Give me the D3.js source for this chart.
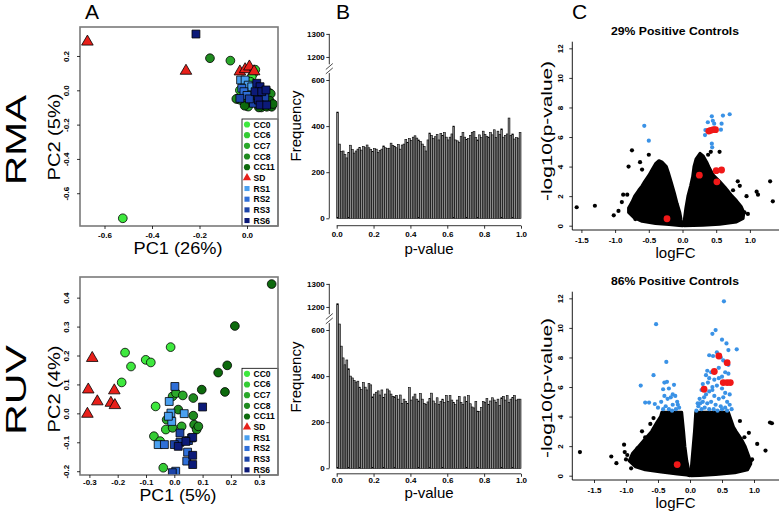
<!DOCTYPE html>
<html><head><meta charset="utf-8">
<script src="https://cdn.jsdelivr.net/npm/d3@7"></script>
<style>body{margin:0;background:#fff} svg{display:block;font-family:"Liberation Sans",Arial,Helvetica,sans-serif}</style>
</head><body><svg id="c" width="779" height="514"></svg>
<script>
// ---------------- DATA ----------------
const groups = ["CC0","CC6","CC7","CC8","CC11","SD","RS1","RS2","RS3","RS6"];
const groupColors = ["#3ee83e","#34cc34","#2aa82a","#1f8a1f","#0d6a0d","#e8201a","#4aa0f0","#2f6fd8","#1c44a8","#0c1a78"];
const groupShapes = ["circle","circle","circle","circle","circle","triangle","square","square","square","square"];

// RMA PCA (PC1, PC2)
const rmaCC0 = [[-0.523,-0.746],[0.027,0.099],[0.02,0.08],[-0.01,0.03],[0.0,-0.02],[-0.04,-0.05]];
const rmaCC6 = [[-0.03,0.0],[0.01,-0.04],[-0.02,-0.06],[0.035,0.12],[0.0,-0.09],[0.015,0.05]];
const rmaCC7 = [[-0.07,0.173],[-0.03,-0.055],[0.005,-0.095],[0.09,-0.01],[0.02,-0.07]];
const rmaCC8 = [[-0.156,0.187],[0.1,-0.02],[0.06,-0.1],[-0.045,-0.05],[0.085,-0.06]];
const rmaCC11 = [[0.083,-0.096],[0.104,-0.096],[0.095,-0.06],[0.11,-0.08],[0.05,-0.1],[-0.01,-0.09]];
const rmaSD = [[-0.672,0.283],[-0.257,0.113],[-0.03,0.109],[-0.008,0.122],[0.01,0.138],[0.03,0.11]];
const rmaRS1 = [[-0.027,0.06],[-0.008,0.06],[0.005,0.03],[0.02,0.02]];
const rmaRS2 = [[-0.022,0.012],[-0.013,-0.008],[0.0,-0.03],[0.045,-0.03]];
const rmaRS3 = [[-0.03,-0.047],[0.027,-0.076],[0.01,-0.05],[0.06,-0.07],[0.075,-0.04]];
const rmaRS6 = [[-0.215,0.328],[0.041,0.041],[0.055,0.021],[0.034,-0.008],[0.062,-0.008],[0.048,-0.057],[0.055,-0.086],[0.08,0.002],[0.083,-0.086]];

// RUV PCA
const ruvCC0 = [[-0.174,0.21],[-0.153,0.162],[-0.186,0.107],[-0.101,0.185],[-0.083,0.176],[-0.013,0.229],[-0.066,0.024]];
const ruvCC6 = [[-0.072,-0.079],[-0.05,-0.096],[-0.03,-0.056],[-0.039,-0.188]];
const ruvCC7 = [[-0.006,0.059],[0.006,0.07],[0.03,0.062],[-0.006,-0.05],[0.026,-0.045],[-0.027,-0.022]];
const ruvCC8 = [[0.067,0.053],[0.067,-0.008],[0.07,-0.039],[0.079,-0.056],[0.085,-0.045],[0.014,0.013]];
const ruvCC11 = [[0.214,0.302],[0.187,0.166],[0.155,0.141],[0.179,0.074],[0.097,0.082],[0.344,0.447]];
const ruvSD = [[-0.29,0.191],[-0.304,0.082],[-0.272,0.041],[-0.307,-0.002],[-0.224,0.036],[-0.212,0.079],[-0.21,0.028]];
const ruvRS1 = [[-0.018,0.041],[-0.012,0.001],[-0.009,-0.028],[-0.021,-0.01],[-0.057,-0.108],[0.035,-0.001]];
const ruvRS2 = [[0.002,0.093],[-0.035,-0.108],[0.005,-0.2],[0.044,-0.165],[0.047,-0.134]];
const ruvRS3 = [[0.02,-0.068],[0.02,-0.1],[0.05,-0.094],[0.0,-0.108],[-0.007,-0.205],[0.061,-0.085]];
const ruvRS6 = [[0.1,0.022],[0.065,-0.083],[0.065,-0.145],[0.065,-0.177],[0.014,-0.114],[0.041,-0.097]];

const pcaXTicksRMA = [-0.6,-0.4,-0.2,0.0];
const pcaYTicksRMA = [-0.6,-0.4,-0.2,0.0,0.2];
const pcaXTicksRUV = [-0.3,-0.2,-0.1,0.0,0.1,0.2,0.3];
const pcaYTicksRUV = [-0.2,-0.1,0.0,0.1,0.2,0.3,0.4];

// p-value histograms, 100 bins of width 0.01
const histRMA = [461,322,290,292,276,262,286,317,298,283,
 292,300,308,296,312,306,318,306,298,290,
 302,300,286,294,300,314,306,302,304,326,
 316,312,306,320,300,318,322,342,330,346,
 338,352,358,348,340,334,322,312,292,340,
 370,360,346,354,364,340,368,360,372,352,
 340,352,366,400,340,336,330,356,372,352,
 342,346,360,372,376,350,340,362,350,378,
 364,356,352,372,362,384,350,378,364,388,
 352,360,366,435,360,366,344,350,348,372];
const histRUV = [1214,626,530,479,449,470,432,400,392,381,
 374,378,352,342,372,352,340,368,362,310,
 322,330,336,318,340,308,322,344,336,322,
 312,310,316,300,318,282,300,290,282,350,
 296,310,322,300,292,324,300,282,276,288,
 302,326,292,280,306,276,290,300,286,316,
 290,315,296,286,276,296,312,286,276,310,
 290,315,280,266,262,290,248,246,264,290,
 286,302,276,292,306,296,286,300,272,306,
 312,296,315,286,300,308,316,296,300,300];
const histXTicks = [0,0.2,0.4,0.6,0.8,1.0];
const histYTicks = [0,200,400,600,1200,1300];

// Volcano plots: dense cloud outlines (logFC, -log10 p) + individual points
const volRMALeftCloud = [[0.0,0.0],[-0.05,0.02],[-0.2,0.08],[-0.4,0.15],[-0.6,0.3],[-0.72,0.55],[-0.8,0.9],[-0.8,1.2],[-0.75,1.6],[-0.71,2.0],[-0.65,2.4],[-0.6,2.7],[-0.56,3.0],[-0.5,3.4],[-0.45,3.8],[-0.4,4.2],[-0.35,4.4],[-0.3,4.3],[-0.24,4.0],[-0.21,3.6],[-0.17,3.0],[-0.12,2.2],[-0.08,1.5],[-0.04,0.9],[-0.02,0.4]];
const volRMARightCloud = [[0.02,0.0],[0.03,0.5],[0.05,1.2],[0.08,2.0],[0.12,2.7],[0.15,3.3],[0.17,4.0],[0.2,4.5],[0.26,4.9],[0.31,4.7],[0.36,4.3],[0.4,3.9],[0.46,3.4],[0.55,3.0],[0.63,2.6],[0.72,2.1],[0.8,1.7],[0.87,1.3],[0.91,0.9],[0.9,0.5],[0.8,0.25],[0.55,0.1],[0.3,0.03]];
const volRMABlack = [[-1.57,1.25],[-1.3,1.35],[-1.02,0.7],[-0.75,5.1],[-0.8,4.0],[-0.63,4.3],[-0.5,4.8],[-0.9,1.6],[-0.88,2.1],[-0.82,2.1],[-0.7,0.45],[-0.95,1.0],[0.55,5.0],[0.42,5.0],[0.38,4.8],[0.85,2.7],[0.82,3.0],[0.95,2.0],[0.92,0.9],[1.1,2.3],[1.12,2.1],[1.3,3.0],[1.34,1.65],[0.97,0.8],[0.75,2.4],[-0.6,3.8]];
const volRMABlue = [[-0.567,6.76],[-0.5,5.75],[0.334,6.13],[0.34,6.47],[0.376,7.0],[0.435,7.4],[0.45,7.1],[0.435,5.55],[0.44,5.3],[0.6,7.45],[0.58,6.9],[0.57,6.5],[0.7,7.54],[0.47,6.9]];
const volRMARed = [[-0.23,0.47],[0.25,3.42],[0.51,2.97],[0.5,3.72],[0.58,3.77],[0.39,6.4],[0.42,6.45],[0.46,6.5],[0.49,6.5]];

const volRUVLeftCloud = [[0.0,0.0],[-0.05,0.05],[-0.2,0.12],[-0.45,0.25],[-0.7,0.4],[-0.85,0.6],[-0.95,1.0],[-0.9,1.5],[-0.8,2.0],[-0.7,2.5],[-0.6,3.0],[-0.52,3.6],[-0.46,4.0],[-0.44,4.3],[-0.13,4.3],[-0.1,3.0],[-0.08,2.0],[-0.05,1.0],[-0.02,0.4]];
const volRUVRightCloud = [[0.02,0.0],[0.02,0.5],[0.03,1.0],[0.05,2.0],[0.07,3.0],[0.09,4.3],[0.6,4.3],[0.68,3.3],[0.72,3.0],[0.8,2.5],[0.86,2.0],[0.92,1.3],[0.95,0.8],[0.9,0.4],[0.7,0.2],[0.4,0.08],[0.15,0.02]];
const volRUVBlack = [[-1.72,1.6],[-1.23,1.3],[-1.15,0.85],[-1.03,2.1],[-1.02,1.6],[-0.98,1.4],[-0.85,0.9],[-0.82,1.85],[-0.75,3.0],[-0.7,2.6],[-0.62,3.5],[-0.57,3.9],[0.78,3.7],[0.85,2.6],[0.92,2.9],[0.95,1.0],[1.05,2.15],[1.18,1.7],[1.25,3.6],[1.28,3.55],[0.97,1.1],[0.8,1.7],[0.92,0.9],[-0.92,0.5],[-1.0,1.1]];
const volRUVBlue = [[-0.53,10.25],[-0.37,7.7],[-0.57,6.8],[-0.77,6.1],[-0.4,6.3],[-0.36,6.35],[-0.33,5.9],[-0.42,5.85],[-0.25,6.15],[-0.27,5.5],[-0.23,5.4],[-0.3,5.3],[-0.2,5.0],[-0.7,4.95],[-0.64,4.95],[-0.55,4.85],[-0.5,4.6],[-0.45,5.0],[-0.38,4.7],[-0.33,4.5],[-0.27,4.8],[-0.22,4.5],[-0.17,4.6],[-0.42,4.5],[-0.35,5.2],[-0.28,4.4],[-0.4,5.4],[-0.19,4.8],
 [0.53,11.8],[0.4,9.85],[0.35,9.6],[0.5,9.2],[0.57,8.95],[0.6,8.5],[0.73,8.55],[0.42,8.35],[0.36,8.1],[0.3,8.15],[0.48,8.0],[0.52,7.8],[0.6,7.5],[0.27,7.1],[0.33,7.0],[0.45,7.3],[0.55,7.0],[0.6,6.9],[0.25,6.8],[0.3,6.6],[0.38,6.5],[0.45,6.6],[0.5,6.7],[0.2,6.2],[0.28,6.3],[0.35,6.0],[0.42,6.1],[0.5,5.9],[0.55,5.6],[0.62,5.5],[0.18,5.8],[0.25,5.5],[0.3,5.7],[0.38,5.4],[0.45,5.2],[0.52,5.3],[0.58,5.0],[0.15,5.2],[0.2,5.0],[0.27,4.9],[0.33,5.0],[0.4,4.8],[0.48,4.7],[0.55,4.6],[0.62,4.8],[0.13,4.7],[0.18,4.5],[0.23,4.6],[0.3,4.5],[0.37,4.5],[0.43,4.4],[0.5,4.5],[0.58,4.4],[0.65,4.5],[0.1,4.4],[0.16,4.9],[0.35,5.8],[0.22,5.3],[0.12,4.9]];
const volRUVRed = [[-0.2,0.75],[0.22,5.85],[0.38,7.05],[0.45,8.1],[0.58,7.65],[0.52,6.3],[0.58,6.3],[0.63,6.3]];
const volXTicks = [-1.5,-1.0,-0.5,0.0,0.5,1.0];
const volYTicks = [0,2,4,6,8,10,12];

// ---------------- DRAW ----------------
const svg = d3.select("#c");
const f1 = d => d.toFixed(1);
const TICKFONT = "8px";

function text(x, y, s, size, opts = {}) {
  const t = svg.append("text").attr("x", x).attr("y", y).text(s)
    .attr("font-size", size).attr("text-anchor", opts.anchor || "middle")
    .attr("font-weight", opts.weight || "normal").attr("fill", "#000");
  if (opts.rot) t.attr("transform", `rotate(-90,${x},${y})`);
  if (opts.len) t.attr("textLength", opts.len).attr("lengthAdjust", "spacingAndGlyphs");
  return t;
}

function styleAxis(g) {
  g.select(".domain").remove();
  g.selectAll(".tick line").attr("stroke", "#000").attr("stroke-width", 0.8);
  g.selectAll(".tick text").attr("font-size", TICKFONT).attr("font-weight", "bold")
    .attr("fill", "#000").attr("font-family", "Liberation Sans, Arial, sans-serif");
}

function xAxis(x, yPos, ticks, fmt, labelOff) {
  const g = svg.append("g").attr("transform", `translate(0,${yPos})`)
    .call(d3.axisBottom(x).tickValues(ticks).tickSize(3).tickFormat(fmt));
  styleAxis(g);
  g.selectAll(".tick text").attr("y", labelOff).attr("dy", null);
  return g;
}
function yAxisRot(y, xPos, ticks, fmt, off) {
  const g = svg.append("g").attr("transform", `translate(${xPos},0)`)
    .call(d3.axisLeft(y).tickValues(ticks).tickSize(3).tickFormat(fmt));
  styleAxis(g);
  g.selectAll(".tick text").attr("x", 0).attr("y", 0).attr("dy", null)
    .attr("text-anchor", "middle").attr("transform", `translate(${-off},0) rotate(-90)`);
  return g;
}

const symGen = (shape, size) => d3.symbol().type(
  shape === "circle" ? d3.symbolCircle : shape === "triangle" ? d3.symbolTriangle : d3.symbolSquare).size(size)();
const bigSize = {circle: 60, triangle: 58, square: 62};
const legSize = {circle: 30, triangle: 30, square: 26};

function pcaPanel(cfg) {
  const x = d3.scaleLinear().domain(cfg.xd).range([80, 278]);
  const y = d3.scaleLinear().domain(cfg.yd).range([cfg.bottom, cfg.top]);
  const clipId = "clip" + Math.round(cfg.top);
  svg.append("clipPath").attr("id", clipId).append("rect")
    .attr("x", 80).attr("y", cfg.top).attr("width", 198).attr("height", cfg.bottom - cfg.top);
  const pg = svg.append("g").attr("clip-path", `url(#${clipId})`);
  cfg.data.forEach((arr, gi) => {
    pg.selectAll(null).data(arr).enter().append("path")
      .attr("d", symGen(groupShapes[gi], bigSize[groupShapes[gi]]))
      .attr("transform", d => `translate(${x(d[0])},${y(d[1])})`)
      .attr("fill", groupColors[gi]).attr("stroke", "#000").attr("stroke-width", 0.8);
  });
  const lg = svg.append("g");
  lg.append("rect").attr("x", 242).attr("y", cfg.legTop).attr("width", 36).attr("height", cfg.bottom - cfg.legTop)
    .attr("fill", "#fff").attr("stroke", "#000").attr("stroke-width", 0.8);
  groups.forEach((gname, gi) => {
    const yy = cfg.legTop + 5.5 + gi * 10.67;
    lg.append("path").attr("d", symGen(groupShapes[gi], legSize[groupShapes[gi]]))
      .attr("transform", `translate(247,${yy})`).attr("fill", groupColors[gi]);
    lg.append("text").attr("x", 253.5).attr("y", yy + 3).text(gname)
      .attr("font-size", "8.5px").attr("font-weight", "bold");
  });
  svg.append("rect").attr("x", 80).attr("y", cfg.top).attr("width", 198).attr("height", cfg.bottom - cfg.top)
    .attr("fill", "none").attr("stroke", "#7a7a7a").attr("stroke-width", 1.6);
  xAxis(x, cfg.bottom, cfg.xt, f1, cfg.xlab);
  yAxisRot(y, 80, cfg.yt, f1, 11);
}

pcaPanel({xd: [-0.7032, 0.1305], yd: [-0.791, 0.369], top: 27, bottom: 226, legTop: 119, xlab: 11.5,
  xt: pcaXTicksRMA, yt: pcaYTicksRMA,
  data: [rmaCC0, rmaCC6, rmaCC7, rmaCC8, rmaCC11, rmaSD, rmaRS1, rmaRS2, rmaRS3, rmaRS6]});
pcaPanel({xd: [-0.3332, 0.3664], yd: [-0.2131, 0.4714], top: 277, bottom: 475, legTop: 368.3, xlab: 9.5,
  xt: pcaXTicksRUV, yt: pcaYTicksRUV,
  data: [ruvCC0, ruvCC6, ruvCC7, ruvCC8, ruvCC11, ruvSD, ruvRS1, ruvRS2, ruvRS3, ruvRS6]});

function histPanel(vals, zeroY, axOff, xlab) {
  const x = d3.scaleLinear().domain([0, 1]).range([336.7, 521]);
  const comp = v => v > 650 ? v - 500 : v;
  const y = d3.scaleLinear().domain([0, 800]).range([zeroY, zeroY - 800 * 0.2305]);
  svg.append("g").selectAll("rect").data(vals).enter().append("rect")
    .attr("x", (d, i) => x(i / 100)).attr("width", x(0.01) - x(0))
    .attr("y", d => y(comp(d))).attr("height", d => y(0) - y(comp(d)))
    .attr("fill", "#8a8a8a").attr("stroke", "#000").attr("stroke-width", 0.6);
  xAxis(x, zeroY + axOff, histXTicks, f1, xlab);
  svg.append("line").attr("x1", x(0)).attr("x2", x(1)).attr("y1", zeroY + axOff).attr("y2", zeroY + axOff)
    .attr("stroke", "#000").attr("stroke-width", 0.8);
  const ax = 329.3;
  const g = svg.append("g").attr("transform", `translate(${ax},0)`)
    .call(d3.axisLeft(y).tickValues(histYTicks.map(comp)).tickSize(3)
      .tickFormat((d, i) => String(histYTicks[i])));
  styleAxis(g);
  g.selectAll(".tick text").attr("x", -4.5);
  svg.append("line").attr("x1", ax).attr("x2", ax).attr("y1", y(0)).attr("y2", y(630)).attr("stroke", "#000").attr("stroke-width", 0.8);
  svg.append("line").attr("x1", ax).attr("x2", ax).attr("y1", y(668)).attr("y2", y(800)).attr("stroke", "#000").attr("stroke-width", 0.8);
  const by = y(649);
  [-2.2, 2.2].forEach(o => svg.append("line").attr("x1", ax - 3.5).attr("x2", ax + 3.5)
    .attr("y1", by + o + 3).attr("y2", by + o - 3).attr("stroke", "#000").attr("stroke-width", 0.7));
}
histPanel(histRMA, 218.3, 7.4, 11.5);
histPanel(histRUV, 468.3, 5.5, 9.5);

function volPanel(cfg) {
  const x = d3.scaleLinear().domain(cfg.xd).range([572.3, 779]);
  const y = d3.scaleLinear().domain([0, 12]).range([cfg.zeroY, cfg.zeroY - 12 * 14.78]);
  const line = d3.line().x(d => x(d[0])).y(d => y(d[1])).curve(d3.curveLinearClosed);
  [cfg.left, cfg.right].forEach(poly => svg.append("path").attr("d", line(poly))
    .attr("fill", "#000").attr("stroke", "#000").attr("stroke-width", 3).attr("stroke-linejoin", "round"));
  svg.append("g").selectAll("circle").data(cfg.black).enter().append("circle")
    .attr("cx", d => x(d[0])).attr("cy", d => y(d[1])).attr("r", 2.1).attr("fill", "#000");
  svg.append("g").selectAll("circle").data(cfg.blue).enter().append("circle")
    .attr("cx", d => x(d[0])).attr("cy", d => y(d[1])).attr("r", 2.1).attr("fill", "#3a92e6");
  svg.append("g").selectAll("circle").data(cfg.red).enter().append("circle")
    .attr("cx", d => x(d[0])).attr("cy", d => y(d[1])).attr("r", 3.4).attr("fill", "#f01818");
  const bottom = cfg.zeroY + 4.3, top = cfg.zeroY - 184;
  svg.append("path").attr("d", `M572.3,${top}V${bottom}H779`).attr("fill", "none").attr("stroke", "#000").attr("stroke-width", 0.9);
  xAxis(x, bottom, volXTicks, f1, 12.9);
  yAxisRot(y, 572.3, volYTicks, d => String(d), 9);
}
volPanel({xd: [(572.3 - 682.5) / 67.4, (779 - 682.5) / 67.4], zeroY: 225.7,
  left: volRMALeftCloud, right: volRMARightCloud, black: volRMABlack, blue: volRMABlue, red: volRMARed});
volPanel({xd: [(572.3 - 690) / 64, (779 - 690) / 64], zeroY: 475.7,
  left: volRUVLeftCloud, right: volRUVRightCloud, black: volRUVBlack, blue: volRUVBlue, red: volRUVRed});

// labels
text(85, 19, "A", "21px", {anchor: "start"});
text(336, 19, "B", "21px", {anchor: "start"});
text(572, 19, "C", "21px", {anchor: "start"});
text(25.5, 140, "RMA", "29px", {rot: true, len: 90});
text(25.5, 390, "RUV", "29px", {rot: true, len: 90});
text(178, 254, "PC1 (26%)", "17px", {len: 89});
text(178, 500.5, "PC1 (5%)", "17px", {len: 77});
text(60, 137, "PC2 (5%)", "17px", {rot: true, len: 87});
text(60, 389, "PC2 (4%)", "17px", {rot: true, len: 87});
text(429, 253.5, "p-value", "15px");
text(429, 498, "p-value", "15px");
text(300.5, 126, "Frequency", "15px", {rot: true});
text(300.5, 377, "Frequency", "15px", {rot: true});
text(675.5, 258, "logFC", "15px");
text(675.5, 508, "logFC", "15px");
text(551.5, 131, "-log10(p-value)", "15px", {rot: true, len: 140});
text(551.5, 388, "-log10(p-value)", "15px", {rot: true, len: 140});
text(675, 35, "29% Positive Controls", "10.5px", {weight: "bold", len: 128});
text(675, 285, "86% Positive Controls", "10.5px", {weight: "bold", len: 128});
</script></body></html>
